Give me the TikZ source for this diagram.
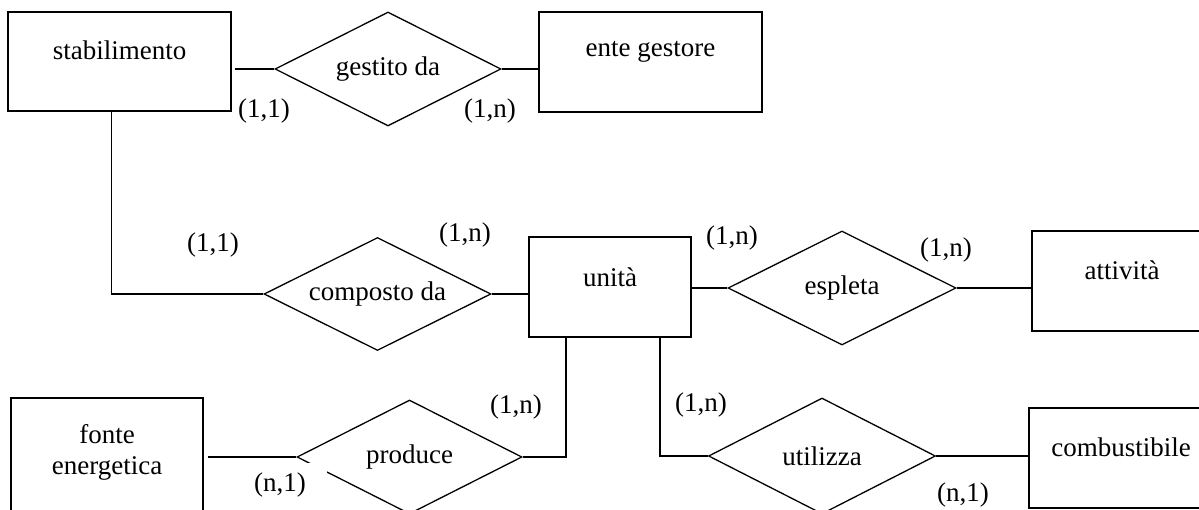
\documentclass[tikz,border=0pt]{standalone}
\usepackage{fontspec}
\setmainfont{Liberation Serif}
\usetikzlibrary{shapes.geometric}
\begin{document}
\begin{tikzpicture}[x=1pt,y=-1pt,
  every node/.style={font=\fontsize{27}{31}\selectfont},
  entity/.style={draw,line width=1.3pt,rectangle,inner sep=0pt},
  rel/.style={draw,line width=1.3pt,diamond,inner sep=0pt,aspect=2},
  card/.style={inner sep=0pt},
  conn/.style={line width=1.3pt}]
\clip (0,0) rectangle (1199,510);
\fill[white] (0,0) rectangle (1199,510);
% entities
\node[entity,minimum width=223pt,minimum height=99pt,label={[yshift=11.5pt]center:stabilimento}] (stab) at (119.5,61.5) {};
\node[entity,minimum width=223pt,minimum height=100pt,label={[yshift=10pt]center:ente gestore}] (ente) at (650.5,62) {};
\node[entity,minimum width=162pt,minimum height=100pt,label={[yshift=10pt]center:unità}] (unita) at (610,287) {};
\node[entity,minimum width=180pt,minimum height=100pt,label={[yshift=11pt]center:attività}] (attiv) at (1122,281) {};
\node[entity,minimum width=192pt,minimum height=118pt,label={[yshift=4.5pt,align=center]center:fonte\\energetica}] (fonte) at (107,457) {};
\node[entity,minimum width=184pt,minimum height=100pt,label={[yshift=11pt]center:combustibile}] (comb) at (1121,458) {};
% relationships
\node[rel,minimum width=226pt,minimum height=114pt] (gest) at (388,69) {gestito da};
\node[rel,minimum width=227pt,minimum height=113pt] (comp) at (377.5,294) {composto da};
\node[rel,minimum width=228pt,minimum height=114pt] (espl) at (842,288) {espleta};
\node[rel,minimum width=225pt,minimum height=114pt] (prod) at (409.5,457) {produce};
\node[rel,minimum width=227pt,minimum height=116pt] (util) at (822,456) {utilizza};
% connectors
\draw[conn,shorten <=3pt] (stab.east |- gest.west) -- (gest.west);
\draw[conn] (gest.east) -- (ente.west |- gest.east);
\draw[conn] ([xshift=-8pt]stab.south) |- (comp.west);
\draw[conn] (comp.east) -- (unita.west |- comp.east);
\draw[conn] (unita.east |- espl.west) -- (espl.west);
\draw[conn] (espl.east) -- (attiv.west |- espl.east);
\draw[conn] ([xshift=-44pt]unita.south) |- (prod.east);
\draw[conn] ([xshift=50pt]unita.south) |- (util.west);
\draw[conn,shorten <=4pt] (fonte.east |- prod.west) -- (prod.west);
\draw[conn] (util.east) -- (comb.west |- util.east);
% cardinalities
\node[card] (c1) at (264,111) {(1,1)};
\node[card] (c2) at (490,111) {(1,n)};
\node[card] (c3) at (213,245) {(1,1)};
\node[card] (c4) at (465,235) {(1,n)};
\node[card] (c5) at (732,238) {(1,n)};
\node[card] (c6) at (946,250) {(1,n)};
\node[card] (c7) at (516,407) {(1,n)};
\node[card,fill=white,minimum width=94pt,minimum height=45pt] (c8) at (280,485.5) {(n,1)};
\node[card] (c9) at (701,405) {(1,n)};
\node[card] (c10) at (963,495) {(n,1)};
\end{tikzpicture}
\end{document}
